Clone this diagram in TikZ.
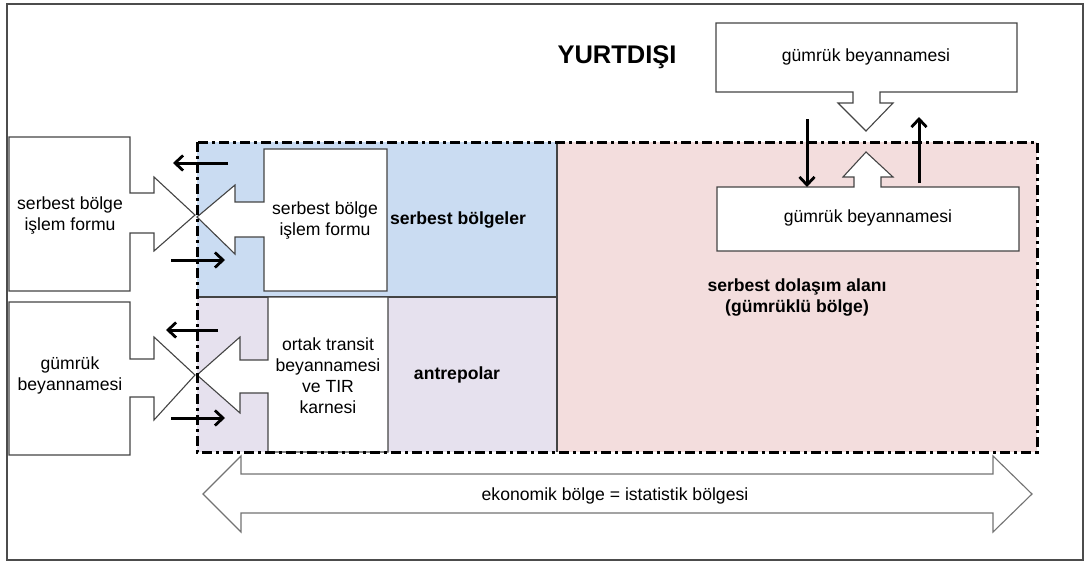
\documentclass[tikz,border=0pt]{standalone}
\usepackage{fontspec}
\setmainfont{Liberation Sans}
\usetikzlibrary{arrows.meta, positioning}

\definecolor{zoneblue}{HTML}{CADCF2}
\definecolor{zonelilac}{HTML}{E6E1EE}
\definecolor{zonepink}{HTML}{F3DDDD}
\definecolor{edgegray}{HTML}{444444}

\begin{document}
\begin{tikzpicture}[x=1pt, y=-1pt]
	\tikzset{
		txt/.style={
				font=\fontsize{17.6}{21}\selectfont, align=center, inner sep=0pt,
			},
		bold/.style={
				txt, font=\fontsize{17.6}{21}\selectfont\bfseries,
			},
		form/.style={
				draw=edgegray, fill=white, line width=1.1pt, line join=miter,
			},
		flow/.style={
				-{Straight Barb[length=8pt, width=15pt, line width=2.8pt]}, line width=3pt,
			},
		zone/.style={
				draw=black, line width=3pt,
				dash pattern=on 10pt off 4pt on 3pt off 4pt,
			},
	}
	\useasboundingbox (0,0) rectangle (1085,562);
	\draw[black!70, line width=1.8pt] (7,4) rectangle (1083,560);

	% regions
	\fill[zoneblue] (197,142) rectangle (557,297);
	\fill[zonelilac] (197,297) rectangle (557,452);
	\fill[zonepink] (557,142) rectangle (1037,452);
	\draw[edgegray, line width=1.1pt] (197,297) -- (557,297);
	\draw[edgegray, line width=1.1pt] (557,142) -- (557,452);

	% forms outside
	\draw[form] (9,137) -- (130,137) -- (130,193) -- (154,193) -- (154,177)
		-- (195,215) -- (154,251) -- (154,233) -- (130,233) -- (130,291)
		-- (9,291) -- cycle;
	\draw[form] (9,302) -- (130,302) -- (130,359) -- (154,359) -- (154,337)
		-- (195,375) -- (154,420) -- (154,397) -- (130,397) -- (130,455)
		-- (9,455) -- cycle;

	% forms inside
	\draw[form] (264,149) -- (387,149) -- (387,291) -- (264,291) -- (264,237)
		-- (235,237) -- (235,254) -- (197,217) -- (235,185) -- (235,202)
		-- (264,202) -- cycle;
	\draw[form] (268,297) -- (388,297) -- (388,452) -- (268,452) -- (268,393)
		-- (240,393) -- (240,413) -- (197,375) -- (240,337) -- (240,360)
		-- (268,360) -- cycle;

	% declarations on the right
	\draw[form] (716,23) -- (1017,23) -- (1017,92) -- (880,92) -- (880,103)
		-- (893,103) -- (866,131) -- (838,103) -- (853,103) -- (853,92)
		-- (716,92) -- cycle;
	\draw[form] (717,187) -- (854,187) -- (854,177) -- (843,177) -- (866,152)
		-- (893,177) -- (881,177) -- (881,187) -- (1019,187) -- (1019,251)
		-- (717,251) -- cycle;

	\draw[zone] (197,142) rectangle (1037,452);

	% economic zone
	\draw[form, draw=black!55] (203,494) -- (241,456) -- (241,474) -- (993,474)
		-- (993,456) -- (1032,494) -- (993,532) -- (993,513) -- (241,513)
		-- (241,532) -- cycle;

	\node[bold, font=\fontsize{25.5}{30}\selectfont\bfseries] (abroad) at (617,57) {YURTDIŞI};
	\node[txt] (sbifOut) at (70,215) {serbest bölge\\işlem formu};
	\node[txt] (gbOut) at (70,375) {gümrük\\beyannamesi};
	\node[txt] (sbifIn) at (325,220) {serbest bölge\\işlem formu};
	\node[txt] (transit) at (328,376) {ortak transit\\beyannamesi\\ve TIR\\karnesi};
	\node[bold] (free) at (458,220) {serbest bölgeler};
	\node[bold] (bonded) at (457,375) {antrepolar};
	\node[bold] (customs) at (797,297) {serbest dolaşım alanı\\(gümrüklü bölge)};
	\node[txt] (gbTop) at (866,57) {gümrük beyannamesi};
	\node[txt] (gbIn) at (868,218) {gümrük beyannamesi};
	\node[txt] (stat) at (615,496) {ekonomik bölge = istatistik bölgesi};

	% movements
	\coordinate (outA) at (228,163);   \coordinate (outB) at (173,163);
	\coordinate (inA) at (171,260);    \coordinate (inB) at (225,260);
	\coordinate (outC) at (218,330);   \coordinate (outD) at (166,330);
	\coordinate (inC) at (171,418);    \coordinate (inD) at (225,418);
	\coordinate (downA) at (807,119);  \coordinate (downB) at (807,187);
	\coordinate (upA) at (919,183);    \coordinate (upB) at (919,117);
	\draw[flow] (outA) -- (outB);
	\draw[flow] (inA) -- (inB);
	\draw[flow] (outC) -- (outD);
	\draw[flow] (inC) -- (inD);
	\draw[flow] (downA) -- (downB);
	\draw[flow] (upA) -- (upB);
\end{tikzpicture}
\end{document}
